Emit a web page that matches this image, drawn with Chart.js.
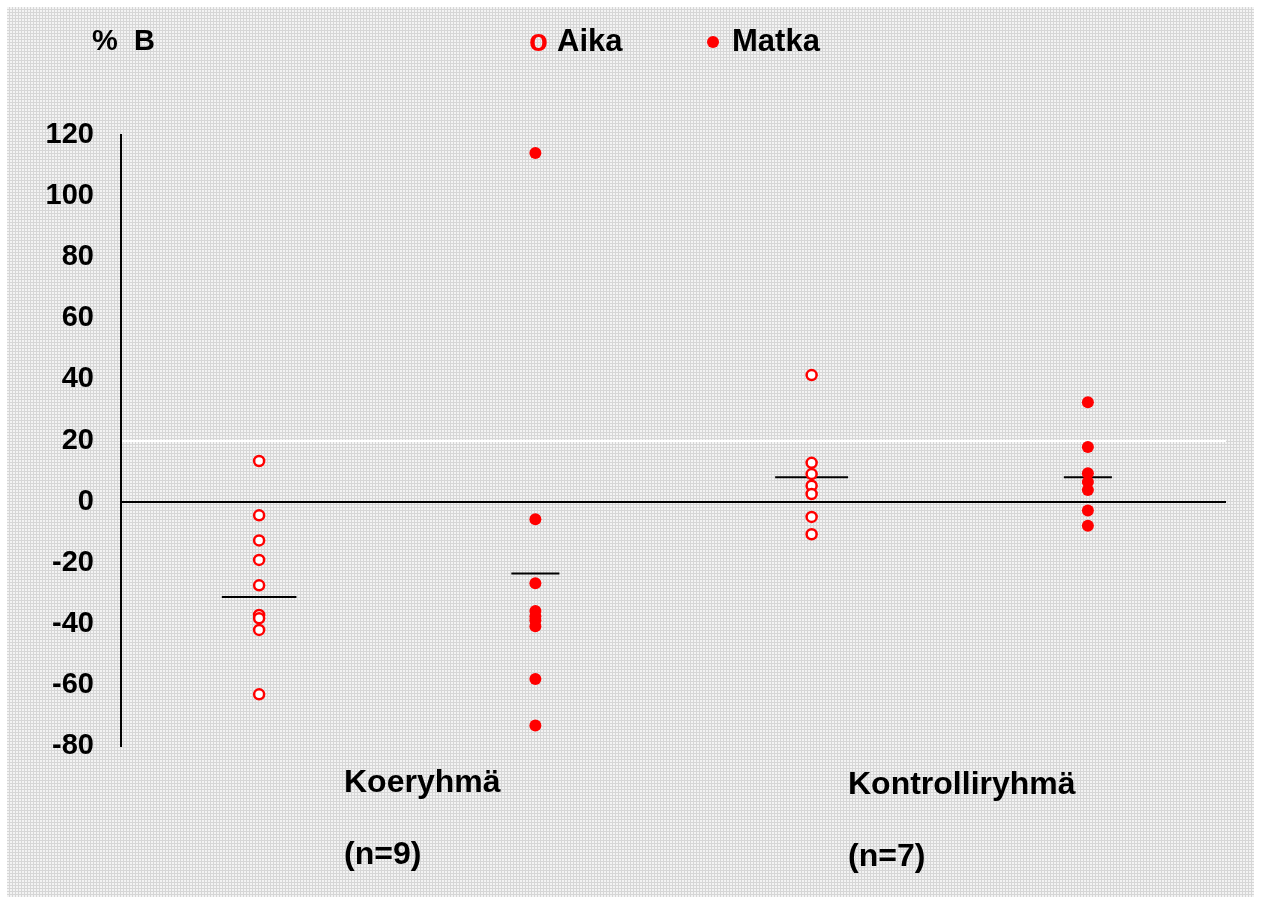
<!DOCTYPE html>
<html>
<head>
<meta charset="utf-8">
<script src="https://cdn.jsdelivr.net/npm/chart.js@4.4.0/dist/chart.umd.min.js"></script>
<style>
  html, body { margin: 0; padding: 0; background: #fff; }
  #wrap { width: 1261px; height: 901px; }
</style>
</head>
<body>
<div id="wrap"><canvas id="chart"></canvas></div>
<script>
// data
const groups = ['Koeryhmä', 'Kontrolliryhmä'];
const groupSizes = ['(n=9)', '(n=7)'];
const seriesNames = ['Aika', 'Matka'];
const positions = [1, 2, 3, 4]; // Aika koe, Matka koe, Aika kontroll, Matka kontroll
const aikaKoe = [13.3, -4.5, -12.7, -19.1, -27.4, -37.1, -38.2, -42.0, -63.1];
const matkaKoe = [114.1, -5.8, -26.7, -35.8, -37.5, -38.8, -40.8, -58.1, -73.3];
const aikaKontroll = [41.4, 12.7, 9.0, 5.2, 2.5, -5.0, -10.7];
const matkaKontroll = [32.5, 17.9, 9.3, 6.4, 3.8, -2.9, -7.9];
const means = [-31.2, -23.5, 8.0, 8.0];
const meanHalfWidths = [0.135, 0.087, 0.132, 0.087];
const yTicks = [-80, -60, -40, -20, 0, 20, 40, 60, 80, 100, 120];

const FONT = '"Liberation Sans", Arial, sans-serif';
const RED = '#ff0000';

const toPoints = (vals, x) => vals.map(v => ({ x: x, y: v }));

// textured grey paper background
function makePattern(ctx) {
  const p = document.createElement('canvas');
  p.width = 3; p.height = 3;
  const c = p.getContext('2d');
  c.fillStyle = '#f3f3f3';
  c.fillRect(0, 0, 3, 3);
  c.fillStyle = '#d6d6d6';
  c.fillRect(0, 0, 3, 1);
  c.fillRect(0, 0, 1, 3);
  return ctx.createPattern(p, 'repeat');
}

const meanDatasets = means.map((m, i) => ({
  type: 'line',
  label: 'mean' + i,
  data: [{ x: positions[i] - meanHalfWidths[i], y: m }, { x: positions[i] + meanHalfWidths[i], y: m }],
  borderColor: '#000',
  borderWidth: 2,
  pointRadius: 0,
  fill: false,
}));

const decor = {
  id: 'decor',
  beforeDraw(chart) {
    const ctx = chart.ctx;
    ctx.save();
    ctx.fillStyle = '#fff';
    ctx.fillRect(0, 0, chart.width, chart.height);
    ctx.fillStyle = makePattern(ctx);
    ctx.fillRect(7, 7, chart.width - 14, chart.height - 11);
    ctx.restore();
  },
  afterDraw(chart) {
    const ctx = chart.ctx;
    ctx.save();
    ctx.textBaseline = 'middle';
    ctx.fillStyle = '#000';
    ctx.textAlign = 'left';
    // axis title
    ctx.font = 'bold 29px ' + FONT;
    ctx.fillText('%  B', 92, 42);
    // legend
    ctx.font = 'bold 31px ' + FONT;
    ctx.fillStyle = RED;
    ctx.fillText('o', 529, 42);
    ctx.fillStyle = '#000';
    ctx.fillText(seriesNames[0], 557, 42);
    ctx.fillStyle = RED;
    ctx.beginPath();
    ctx.arc(713, 42, 6, 0, Math.PI * 2);
    ctx.fill();
    ctx.fillStyle = '#000';
    ctx.fillText(seriesNames[1], 732, 42);
    // group labels under the axis
    ctx.font = 'bold 32px ' + FONT;
    ctx.fillText(groups[0], 344, 783);
    ctx.fillText(groupSizes[0], 344, 855);
    ctx.fillText(groups[1], 848, 785);
    ctx.fillText(groupSizes[1], 848, 857);
    ctx.restore();
  }
};

new Chart(document.getElementById('chart'), {
  type: 'scatter',
  data: {
    datasets: [
      {
        label: seriesNames[0],
        data: toPoints(aikaKoe, positions[0]).concat(toPoints(aikaKontroll, positions[2])),
        pointStyle: 'circle',
        pointRadius: 5,
        pointBorderWidth: 2.5,
        pointBorderColor: RED,
        pointBackgroundColor: '#fff',
      },
      {
        label: seriesNames[1],
        data: toPoints(matkaKoe, positions[1]).concat(toPoints(matkaKontroll, positions[3])),
        pointStyle: 'circle',
        pointRadius: 6,
        pointBorderWidth: 0,
        pointBackgroundColor: RED,
      },
      ...meanDatasets,
    ],
  },
  options: {
    responsive: true,
    maintainAspectRatio: false,
    animation: false,
    layout: { padding: { left: 0, right: 35, top: 135, bottom: 155 } },
    plugins: {
      legend: { display: false },
      tooltip: { enabled: false },
    },
    scales: {
      x: {
        type: 'linear',
        min: 0.5,
        max: 4.5,
        display: false,
      },
      y: {
        min: -80,
        max: 120,
        afterFit(scale) { scale.width = 121; },
        afterBuildTicks(scale) { scale.ticks = yTicks.map(v => ({ value: v })); },
        border: { display: true, color: '#000', width: 2 },
        grid: {
          drawTicks: false,
          color: c => c.tick && c.tick.value === 0 ? '#000' : (c.tick && c.tick.value === 20 ? '#ffffff' : 'rgba(0,0,0,0)'),
          lineWidth: 2,
        },
        ticks: {
          padding: 27,
          color: '#000',
          font: { family: FONT, size: 29, weight: 'bold' },
        },
      },
    },
  },
  plugins: [decor],
});
</script>
</body>
</html>
